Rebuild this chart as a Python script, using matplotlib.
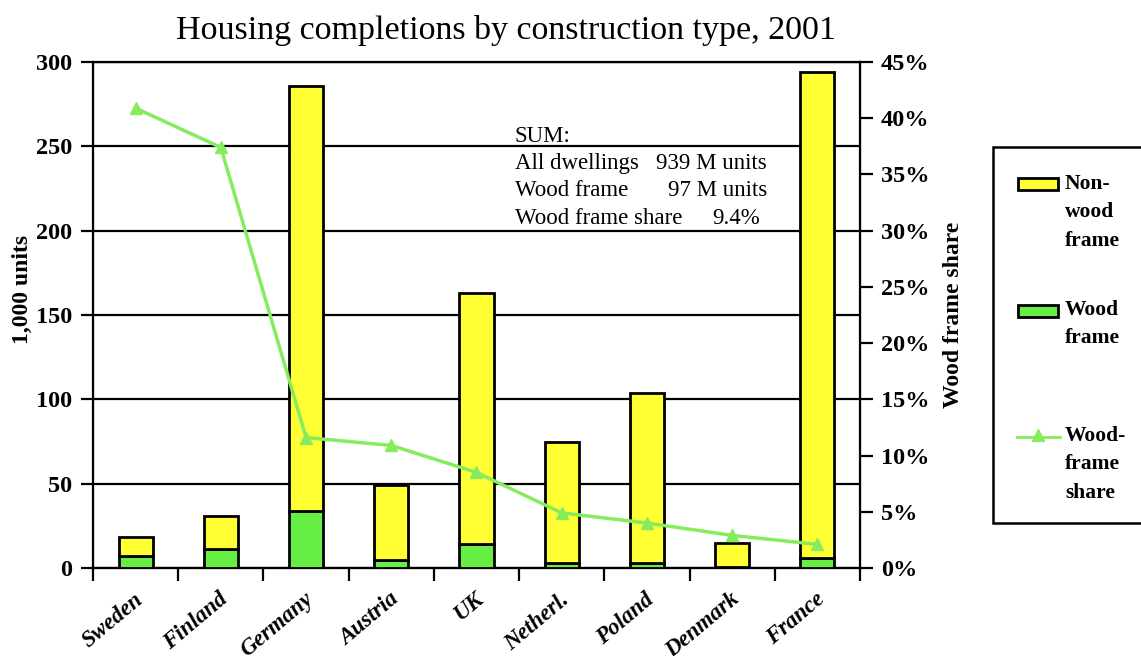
import matplotlib
matplotlib.use("Agg")
import matplotlib.pyplot as plt
import numpy as np
from matplotlib.patches import Rectangle
from matplotlib.lines import Line2D
from matplotlib.transforms import ScaledTranslation

countries = ["Sweden", "Finland", "Germany", "Austria", "UK",
             "Netherl.", "Poland", "Denmark", "France"]
total_units = [18.5, 31, 286, 49, 163, 74.5, 103.5, 15, 294]
wood_units = [7, 11.5, 33.5, 5, 14.5, 3, 3, 0.5, 6]
wood_share = [40.9, 37.4, 11.6, 10.9, 8.5, 4.9, 4.0, 2.9, 2.1]

yellow = "#ffff33"
green = "#66ee44"
line_green = "#86ec5e"
serif = "Liberation Serif"
plt.rcParams["font.family"] = serif

W, H = 1141, 656
fig = plt.figure(figsize=(W / 100, H / 100), dpi=100)
ax = fig.add_axes([93 / W, 1 - 568 / H, (860 - 93) / W, (568 - 62) / H])

x = np.arange(len(countries))
non_wood = np.array(total_units) - np.array(wood_units)
ax.bar(x, wood_units, 0.4, color=green, edgecolor="black", linewidth=2, zorder=3)
ax.bar(x, non_wood, 0.4, bottom=wood_units, color=yellow, edgecolor="black",
       linewidth=2, zorder=3)

ax.set_xlim(-0.5, len(countries) - 0.5)
ax.set_ylim(0, 300)
ax.set_yticks(np.arange(0, 301, 50))
ax.yaxis.grid(True, color="black", linewidth=1.6, zorder=0)
ax.set_axisbelow(True)
ax.tick_params(axis="y", direction="out", length=9, width=1.6, labelsize=17.5,
               pad=6)
for lab in ax.get_yticklabels():
    lab.set_fontweight("bold")
ax.set_ylabel("1,000 units", fontsize=17, fontweight="bold")
ax.yaxis.set_label_coords(-0.078, 0.55)

# boundary ticks, labels at category centres
ax.set_xticks(np.arange(-0.5, len(countries)))
ax.set_xticklabels([])
ax.tick_params(axis="x", which="major", direction="out", length=9, width=1.6)
ax.set_xticks(x, minor=True)
ax.set_xticklabels(countries, minor=True, rotation=40, ha="right",
                   rotation_mode="anchor", fontsize=16.5, fontweight="bold",
                   fontstyle="italic")
ax.tick_params(axis="x", which="minor", length=0, pad=15)
shift = ScaledTranslation(-2 / 100, 0, fig.dpi_scale_trans)
for lab in ax.get_xticklabels(minor=True):
    lab.set_transform(lab.get_transform() + shift)
for s in ax.spines.values():
    s.set_linewidth(1.6)

ax2 = ax.twinx()
ax2.plot(x, wood_share, color=line_green, linewidth=2.5, marker="^",
         markersize=9, zorder=5)
ax2.set_ylim(0, 45)
ax2.set_yticks(np.arange(0, 46, 5))
ax2.set_yticklabels([f"{v}%" for v in range(0, 46, 5)])
ax2.tick_params(axis="y", direction="out", length=9, width=1.6, labelsize=17.5,
                pad=6)
for lab in ax2.get_yticklabels():
    lab.set_fontweight("bold")
ax2.set_ylabel("Wood frame share", fontsize=17, fontweight="bold", labelpad=10)

fig.text(506 / W, 1 - 30 / H, "Housing completions by construction type, 2001",
         ha="center", va="center", fontsize=24.5)

# summary text
fig.text(515 / W, 1 - 137 / H, "SUM:", ha="left", va="center", fontsize=16.5)
sum_labels = ["All dwellings", "Wood frame", "Wood frame share"]
sum_values = ["939 M units", "97 M units", "9.4%"]
for i, (lab, val) in enumerate(zip(sum_labels, sum_values)):
    yy = 1 - (163 + 27.5 * i) / H
    fig.text(515 / W, yy, lab, ha="left", va="center", fontsize=16.5)
    fig.text((767 if i < 2 else 760) / W, yy, val, ha="right", va="center",
             fontsize=16.5)

# legend drawn by hand
fig.patches.append(Rectangle((993 / W, 1 - 523 / H), 0.2, (523 - 147) / H,
                             transform=fig.transFigure, facecolor="white",
                             edgecolor="black", linewidth=1.8))
for col, yc in [(yellow, 184), (green, 311)]:
    fig.patches.append(Rectangle((1018 / W, 1 - (yc + 6) / H), 40 / W, 12 / H,
                                 transform=fig.transFigure, facecolor=col,
                                 edgecolor="black", linewidth=2))
fig.lines.append(Line2D([1017 / W, 1060 / W], [1 - 437 / H, 1 - 437 / H],
                        transform=fig.transFigure, color=line_green,
                        linewidth=2))
fig.lines.append(Line2D([1038 / W], [1 - 435 / H], transform=fig.transFigure,
                        color=line_green, marker="^", markersize=8, linestyle=""))
for txt, yt in [("Non-\nwood\nframe", 174), ("Wood\nframe", 300),
                ("Wood-\nframe\nshare", 426)]:
    fig.text(1065 / W, 1 - yt / H, txt, ha="left", va="top", fontsize=15.5,
             fontweight="bold", linespacing=1.55)

fig.savefig("out.png", dpi=100)
